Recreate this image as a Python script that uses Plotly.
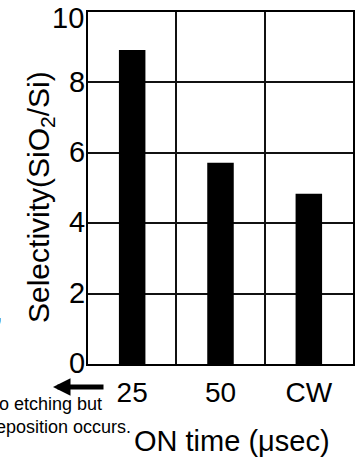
import plotly.graph_objects as go

categories = ["25", "50", "CW"]
selectivity = [8.92, 5.72, 4.84]
y_ticks = [0, 2, 4, 6, 8, 10]
y_tick_text = ["0", "2", "4", "6", "8", ""]
top_tick_label = "10"

FONT = "Liberation Sans, Arial, sans-serif"
L, R, T, B = 88, 8, 12, 93
W, H = 361, 457
PW, PH = W - L - R, H - T - B

def px(x):
    return (x - L) / PW

def py(y):
    return (H - B - y) / PH

fig = go.Figure()
fig.add_trace(go.Bar(
    x=categories, y=selectivity, width=0.3,
    marker=dict(color="black", line=dict(width=0)),
))

fig.update_layout(
    width=W, height=H,
    margin=dict(l=L, r=R, t=T, b=B, autoexpand=False),
    paper_bgcolor="white", plot_bgcolor="white",
    showlegend=False,
    font=dict(family=FONT, color="black"),
    xaxis=dict(
        type="category", tickson="boundaries", automargin=False,
        showgrid=True, gridcolor="#111", gridwidth=1.6,
        showline=True, linecolor="black", linewidth=2, mirror=True,
        ticks="", tickfont=dict(size=28, family=FONT), ticklabelstandoff=2,
        range=[-0.5, 2.5], ticklabeloverflow="allow",
    ),
    yaxis=dict(
        range=[0, 10], tickvals=y_ticks, ticktext=y_tick_text, automargin=False,
        showgrid=True, gridcolor="#111", gridwidth=1.6,
        showline=True, linecolor="black", linewidth=2, mirror=True,
        ticks="", tickfont=dict(size=29, family=FONT), ticklabelstandoff=-5,
        ticklabelshift=-1,
        zeroline=False, ticklabeloverflow="allow",
    ),
    annotations=[
        dict(text=top_tick_label, x=px(86), y=py(18), xref="paper", yref="paper",
             showarrow=False, font=dict(size=29, family=FONT),
             xanchor="right", yanchor="middle"),
        dict(text="Selectivity(SiO<sub>2</sub>/Si)", textangle=-90,
             x=px(40), y=py(197), xref="paper", yref="paper",
             showarrow=False, font=dict(size=30, family=FONT),
             xanchor="center", yanchor="middle"),
        dict(text="ON time (\u03bcsec)",
             x=px(232), y=py(441), xref="paper", yref="paper",
             showarrow=False, font=dict(size=29, family=FONT),
             xanchor="center", yanchor="middle"),
        dict(text="No etching but<br>deposition occurs.", align="left",
             x=px(-16), y=py(415), xref="paper", yref="paper",
             showarrow=False, font=dict(size=18, family=FONT),
             xanchor="left", yanchor="middle"),
        dict(text=",", x=px(5), y=py(311), xref="paper", yref="paper",
             showarrow=False, font=dict(size=28, family=FONT),
             xanchor="right", yanchor="middle"),
        dict(text="", x=px(53), y=py(387), xref="paper", yref="paper",
             showarrow=True, ax=52, ay=0, arrowhead=2, arrowsize=0.7,
             arrowwidth=5, arrowcolor="black"),
    ],
)

fig.write_html("out.html", config={"displayModeBar": False},
               post_script="document.body.style.margin='0';document.body.style.overflow='hidden';")
